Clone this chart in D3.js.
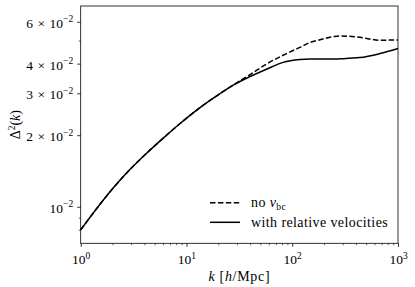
<!DOCTYPE html>
<html>
<head>
<meta charset="utf-8">
<script src="https://d3js.org/d3.v7.min.js"></script>
<style>
  body { margin: 0; background: #fff; }
  svg text { font-family: "Liberation Serif", "DejaVu Serif", serif; fill: #000; }
</style>
</head>
<body>
<svg id="MAINSVG" width="415" height="287"></svg>
<script>
// values
var kValues = [1, 2, 2.9, 4.2, 6, 8.7, 12.5, 16.7, 27.7, 40, 57, 82, 118, 147, 183, 243, 282, 436, 674, 1000];
var noVbc   = [0.0080, 0.0119, 0.0143, 0.0168, 0.0194, 0.0224, 0.0255, 0.0280, 0.0325, 0.0360, 0.0398, 0.0434, 0.0468, 0.0491, 0.0504, 0.0519, 0.0523, 0.0516, 0.0502, 0.0503];
var withVel = [0.0080, 0.0119, 0.0143, 0.0168, 0.0194, 0.0224, 0.0255, 0.0280, 0.0325, 0.0353, 0.0379, 0.0405, 0.0416, 0.0418, 0.0418, 0.0418, 0.0419, 0.0424, 0.0441, 0.0463];

var xMajor = [1, 10, 100, 1000];
var xMajorExp = ["0", "1", "2", "3"];
var yLabeled = [0.01, 0.02, 0.03, 0.04, 0.06];
var yLabelMant = ["", "2", "3", "4", "6"];
var yUnlabeled = [0.008, 0.009, 0.05];

var plotLeft = 80.7, plotRight = 398, plotTop = 6, plotBottom = 243.3;

var SVG = d3.select("#MAINSVG");

var x = d3.scaleLog().domain([1, 1000]).range([plotLeft, plotRight]);
var y = d3.scaleLog().domain([0.00702, 0.0699]).range([plotBottom, plotTop]);

// minor x ticks 2..9 in every decade
var xMinor = [];
xMajor.slice(0, 3).forEach(function(d) {
  for (var m = 2; m < 10; m++) xMinor.push(d * m);
});

var tickSize = 3.5;

// x axis, minor then major
SVG.append("g")
   .attr("transform", "translate(0," + plotBottom + ")")
   .call(d3.axisBottom(x).tickValues(xMinor).tickSize(2).tickFormat(""))
   .call(function(g) { g.select(".domain").remove(); g.selectAll("line").attr("stroke-width", 0.6); });

var gx = SVG.append("g")
   .attr("transform", "translate(0," + plotBottom + ")")
   .call(d3.axisBottom(x).tickValues(xMajor).tickSize(tickSize).tickPadding(4).tickFormat(""));
gx.select(".domain").remove();
gx.attr("font-family", null).attr("font-size", null);
gx.selectAll("line").attr("stroke-width", 0.8);
gx.selectAll(".tick text").each(function(d, i) {
  var t = d3.select(this).attr("font-size", 13.5).attr("dy", "1em");
  t.append("tspan").text("10");
  t.append("tspan").attr("font-size", 9.5).attr("dy", -5.5).text(xMajorExp[i]);
});

// y axis
SVG.append("g")
   .attr("transform", "translate(" + plotLeft + ",0)")
   .call(d3.axisLeft(y).tickValues(yUnlabeled).tickSize(2).tickFormat(""))
   .call(function(g) { g.select(".domain").remove(); g.selectAll("line").attr("stroke-width", 0.6); });

var gy = SVG.append("g")
   .attr("transform", "translate(" + plotLeft + ",0)")
   .call(d3.axisLeft(y).tickValues(yLabeled).tickSize(tickSize).tickPadding(4).tickFormat(""));
gy.select(".domain").remove();
gy.attr("font-family", null).attr("font-size", null);
gy.selectAll("line").attr("stroke-width", 0.8);
gy.selectAll(".tick text").each(function(d, i) {
  var t = d3.select(this).attr("font-size", 13.5).attr("dy", "0.4em");
  if (yLabelMant[i]) {
    t.append("tspan").text(yLabelMant[i]);
    t.append("tspan").attr("dx", 4.5).text("\u00d7");
    t.append("tspan").attr("dx", 4.5).text("10");
  } else {
    t.append("tspan").text("10");
  }
  t.append("tspan").attr("font-size", 9.5).attr("dy", -5.5).text("\u22122");
});

// curves
var line = d3.line()
   .x(function(d) { return x(d[0]); })
   .y(function(d) { return y(d[1]); })
   .curve(d3.curveMonotoneX);

SVG.append("path")
   .datum(kValues.map(function(k, i) { return [k, noVbc[i]]; }))
   .attr("d", line)
   .attr("fill", "none")
   .attr("stroke", "#000")
   .attr("stroke-width", 1.5)
   .attr("stroke-dasharray", "5.5,2.4");

SVG.append("path")
   .datum(kValues.map(function(k, i) { return [k, withVel[i]]; }))
   .attr("d", line)
   .attr("fill", "none")
   .attr("stroke", "#000")
   .attr("stroke-width", 1.5);

// frame
SVG.append("rect")
   .attr("x", plotLeft).attr("y", plotTop)
   .attr("width", plotRight - plotLeft).attr("height", plotBottom - plotTop)
   .attr("fill", "none")
   .attr("stroke", "#000")
   .attr("stroke-width", 0.8);

// axis labels
var xl = SVG.append("text")
   .attr("x", (plotLeft + plotRight) / 2).attr("y", 281)
   .attr("text-anchor", "middle")
   .attr("font-size", 14)
   .attr("letter-spacing", 0.7);
xl.append("tspan").attr("font-style", "italic").text("k");
xl.append("tspan").text(" [");
xl.append("tspan").attr("font-style", "italic").text("h");
xl.append("tspan").text("/Mpc]");

var yl = SVG.append("text")
   .attr("transform", "translate(20," + ((plotTop + plotBottom) / 2) + ") rotate(-90)")
   .attr("text-anchor", "middle")
   .attr("font-size", 14);
yl.append("tspan").text("\u0394");
yl.append("tspan").attr("font-size", 9.5).attr("dy", -5.5).text("2");
yl.append("tspan").attr("dy", 5.5).text("(");
yl.append("tspan").attr("font-style", "italic").text("k");
yl.append("tspan").text(")");

// legend
var legX = 210, legLen = 30, legY = [202.7, 222.3];

SVG.append("line")
   .attr("x1", legX).attr("x2", legX + legLen)
   .attr("y1", legY[0]).attr("y2", legY[0])
   .attr("stroke", "#000").attr("stroke-width", 1.5)
   .attr("stroke-dasharray", "5.5,2.4");
SVG.append("line")
   .attr("x1", legX).attr("x2", legX + legLen)
   .attr("y1", legY[1]).attr("y2", legY[1])
   .attr("stroke", "#000").attr("stroke-width", 1.5);

var t1 = SVG.append("text").attr("x", 251).attr("y", legY[0] + 4.5).attr("font-size", 14)
   .attr("letter-spacing", 0.4);
t1.append("tspan").text("no ");
t1.append("tspan").attr("font-style", "italic").text("v");
t1.append("tspan").attr("font-size", 9.5).attr("dy", 2.5).text("bc");

SVG.append("text").attr("x", 251).attr("y", legY[1] + 4.5).attr("font-size", 14)
   .attr("letter-spacing", 0.4)
   .text("with relative velocities");
</script>
</body>
</html>
